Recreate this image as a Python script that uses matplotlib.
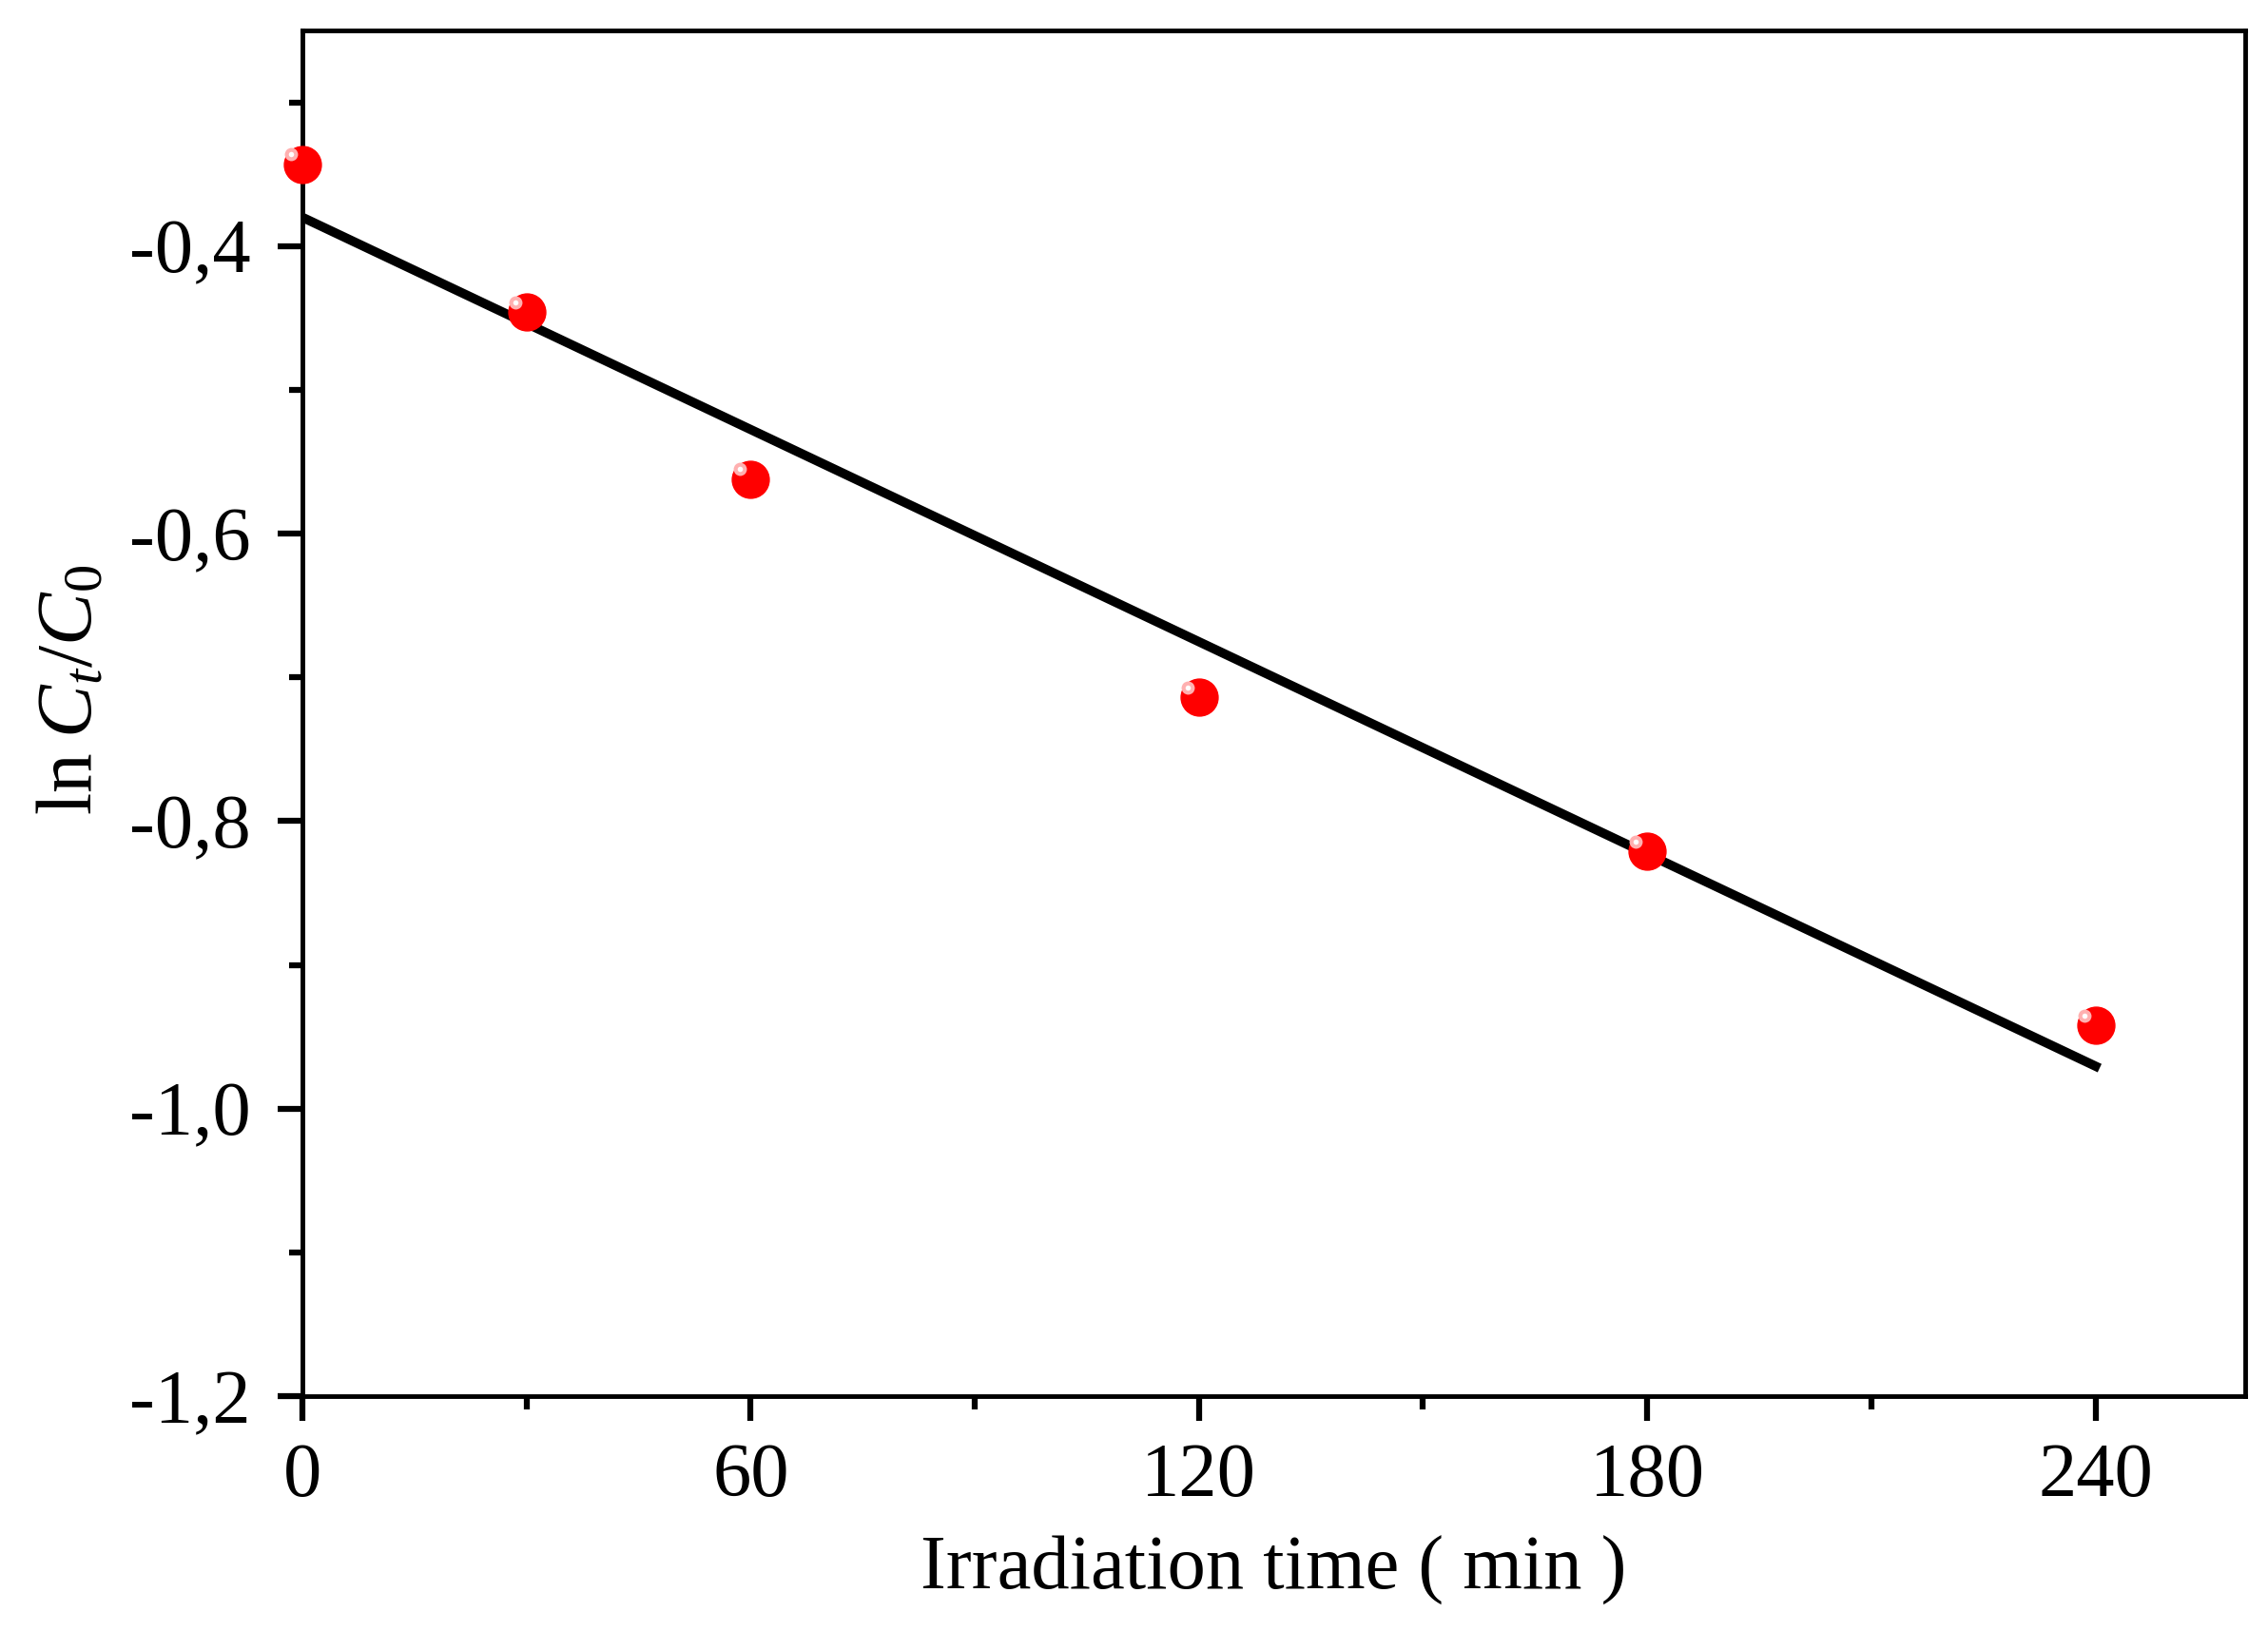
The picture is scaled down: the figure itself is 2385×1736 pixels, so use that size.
import numpy as np
import matplotlib.pyplot as plt
from matplotlib.ticker import MultipleLocator, FuncFormatter

# data
time_min = [0, 30, 60, 120, 180, 240]
ln_ratio = [-0.343, -0.446, -0.562, -0.714, -0.821, -0.942]

# fitted line (intercept, slope)
fit_b = -0.380
fit_k = -0.00246

plt.rcParams['font.family'] = ['Liberation Serif', 'DejaVu Serif']
plt.rcParams['mathtext.fontset'] = 'custom'
plt.rcParams['mathtext.rm'] = 'Liberation Serif'
plt.rcParams['mathtext.it'] = 'Liberation Serif:italic'

fig = plt.figure(figsize=(23.85, 17.36), dpi=100)
ax = fig.add_axes([0.1333, 0.1543, 0.8565, 0.8273])

xf = np.array([time_min[0], time_min[-1]])
ax.plot(xf, fit_b + fit_k * xf, color='black', lw=7, zorder=2)

# red "sphere" markers: body plus a small highlight
ax.plot(time_min, ln_ratio, 'o', ms=28, mfc='#ff0000', mec='#ff0000',
        zorder=3, clip_on=False)
ax.plot(np.array(time_min) - 1.5, np.array(ln_ratio) + 0.007, 'o', ms=10,
        mfc='#ffb0b0', mec='none', zorder=4, clip_on=False)
ax.plot(np.array(time_min) - 1.5, np.array(ln_ratio) + 0.007, 'o', ms=4,
        mfc='white', mec='none', zorder=5, clip_on=False)

ax.set_xlim(0, 260)
ax.set_ylim(-1.2, -0.25)

ax.xaxis.set_major_locator(MultipleLocator(60))
ax.xaxis.set_minor_locator(MultipleLocator(30))
ax.yaxis.set_major_locator(MultipleLocator(0.2))
ax.yaxis.set_minor_locator(MultipleLocator(0.1))
ax.yaxis.set_major_formatter(FuncFormatter(lambda v, p: f'{v:.1f}'.replace('.', ',')))

ax.tick_params(which='major', direction='out', length=19, width=4.5,
               labelsize=58)
ax.tick_params(axis='x', which='major', pad=16)
ax.tick_params(axis='y', which='major', pad=20)
ax.tick_params(which='minor', direction='out', length=10, width=4.5)
ax.tick_params(top=False, right=False)
for s in ax.spines.values():
    s.set_linewidth(3.5)

ax.set_xlabel('Irradiation time ( min )', fontsize=58, labelpad=18)
ax.set_ylabel(r'$\mathrm{ln}\;C_t/C_0$', fontsize=60)
ax.yaxis.set_label_coords(-0.1, 0.517)

fig.savefig('out.png', dpi=100)
